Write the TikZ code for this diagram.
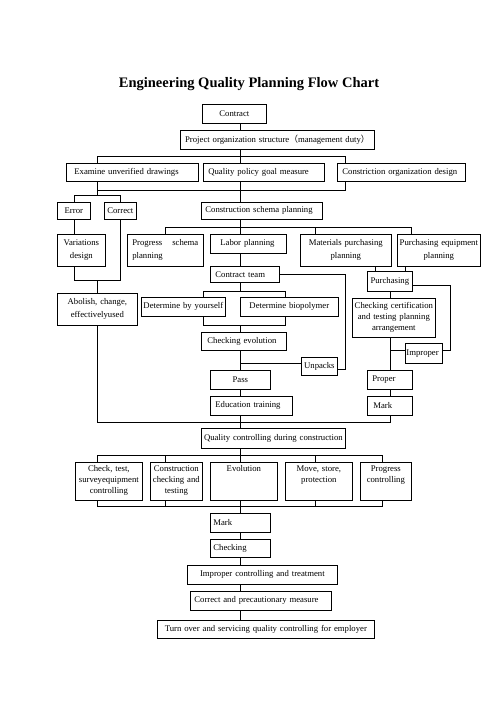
\documentclass[tikz,border=0pt]{standalone}
\usepackage{fontspec}
\setmainfont{Liberation Serif}
\newfontfamily\cjk{Noto Sans CJK SC}
\newcommand\fs{\fontsize{8.7}{11}\selectfont\hyphenpenalty=10000 }
\newcommand\fsb{\fontsize{8.7}{13}\selectfont\hyphenpenalty=10000 }
\newcommand\mkbox[8]{%
  \pgfmathsetmacro\bxw{#4-#2}%
  \pgfmathsetmacro\bxh{#5-#3}%
  \pgfmathsetmacro\bxt{#4-#2-2*#6}%
  \node[box,anchor=north west,minimum width=\bxw pt,minimum height=\bxh pt,
        text width=\bxt pt,inner xsep=#6pt,#7] (#1) at (#2,#3) {#8};%
}
\tikzset{
  box/.style={draw,line width=0.7pt,inner ysep=0pt,align=center,font=\fs},
  lft/.style={align=left},
  two/.style={font=\fsb},
  topal/.style={text height=9pt,text depth=29pt},
  ln/.style={line width=0.7pt}
}
\begin{document}
\begin{tikzpicture}[x=1pt,y=-1pt]
\useasboundingbox[fill=white] (0,0) rectangle (496,702);
\node[font=\fontsize{14.5}{17}\selectfont\bfseries] (title) at (249,84) {Engineering Quality Planning Flow Chart};
% boxes
\mkbox{contract}{202}{104}{266}{123}{0}{}{Contract}
\mkbox{project}{180}{130}{374}{149}{0}{}{Project organization structure{\cjk （}management duty{\cjk ）}}
\mkbox{examine}{66}{163}{198}{181}{8}{lft}{Examine unverified drawings}
\mkbox{quality}{203}{163}{324}{181}{5}{lft}{Quality policy goal measure}
\mkbox{constriction}{337}{163}{465}{181}{5}{lft}{Constriction organization design}
\mkbox{error}{57}{202}{90}{219}{0}{}{Error}
\mkbox{correct}{104}{202}{136}{219}{0}{}{Correct}
\mkbox{schema}{201}{202}{322}{219}{4}{lft}{Construction schema planning}
\mkbox{variations}{57}{234}{105}{266}{0}{two}{Variations\\design}
\mkbox{progress}{127}{234}{203}{266}{5}{lft,two}{Progress\hfill schema\\planning}
\mkbox{labor}{210}{234}{286}{253}{10}{lft}{Labor planning}
\mkbox{materials}{300}{234}{391}{266}{0}{two}{Materials purchasing\\planning}
\mkbox{pequip}{397}{234}{480}{266}{0}{two}{Purchasing equipment\\planning}
\mkbox{cteam}{210}{266}{279}{282}{5}{lft}{Contract team}
\mkbox{purchasing}{367}{271}{412}{291}{0}{}{Purchasing}
\mkbox{abolish}{57}{293}{137}{325}{0}{two}{Abolish, change,\\effectivelyused}
\mkbox{dself}{141}{297}{225}{316}{0}{}{Determine by yourself}
\mkbox{dbio}{240}{297}{338}{316}{0}{}{Determine biopolymer}
\mkbox{checkcert}{352}{298}{435}{337}{0}{}{Checking certification\\and testing planning\\arrangement}
\mkbox{checkevol}{201}{332}{286}{350}{6}{lft}{Checking evolution}
\mkbox{unpacks}{301}{357}{337}{375}{0}{}{Unpacks}
\mkbox{improper}{405}{343}{442}{363}{1}{lft}{Improper}
\mkbox{pass}{210}{370}{270}{389}{0}{}{Pass}
\mkbox{proper}{367}{370}{412}{389}{5}{lft}{Proper}
\mkbox{education}{210}{396}{292}{415}{5}{lft}{Education training}
\mkbox{markone}{367}{396}{412}{415}{6}{lft}{Mark}
\mkbox{qctrl}{201}{428}{345}{448}{0}{}{Quality controlling during construction}
\mkbox{checktest}{75}{462}{142}{500}{0}{topal}{Check, test,\\surveyequipment\\controlling}
\mkbox{ccheck}{150}{462}{202}{500}{0}{topal}{Construction\\checking and\\testing}
\mkbox{evol}{210}{462}{277}{500}{0}{topal}{Evolution}
\mkbox{move}{285}{462}{352}{500}{0}{topal}{Move, store,\\protection}
\mkbox{progctrl}{360}{462}{411}{500}{0}{topal}{Progress\\controlling}
\mkbox{marktwo}{210}{513}{270}{532}{3}{lft}{Mark}
\mkbox{checking}{210}{539}{270}{557}{3}{lft}{Checking}
\mkbox{improperctrl}{187}{565}{337}{584}{0}{}{Improper controlling and treatment}
\mkbox{correctm}{190}{591}{331}{610}{4}{lft}{Correct and precautionary measure}
\mkbox{turnover}{157}{620}{374}{638}{0}{}{Turn over and servicing quality controlling for employer}
% reference coordinates
\coordinate (xa) at (97.7,0);
\coordinate (sp) at (240.5,0);
\coordinate (xc) at (345,0);
\coordinate (xm) at (390.7,0);
\coordinate (x165) at (165.5,0);
\coordinate (x203) at (203,0);
\coordinate (x285) at (285,0);
\coordinate (x315) at (315.5,0);
\coordinate (x376) at (375.7,0);
\coordinate (x406) at (405.7,0);
\coordinate (x412) at (411.7,0);
\coordinate (x450) at (450,0);
\coordinate (x382) at (382.3,0);
\coordinate (y156) at (0,156);
\coordinate (y190) at (0,190);
\coordinate (y195) at (0,195);
\coordinate (y227) at (0,227);
\coordinate (y280) at (0,280);
\coordinate (y285) at (0,285);
\coordinate (y291) at (0,291);
\coordinate (y325) at (0,325);
\coordinate (y350) at (0,350);
\coordinate (y363) at (0,363);
\coordinate (y369) at (0,369);
\coordinate (y422) at (0,422);
\coordinate (y455) at (0,455);
\coordinate (y506) at (0,506);
% connectors
\draw[ln] (contract.south -| sp) -- (project.north -| sp);
\draw[ln] (project.south -| sp) -- (quality.north -| sp);
\draw[ln] (examine.north -| xa) -- (xa |- y156) -- (xc |- y156) -- (constriction.north -| xc);
\draw[ln] (examine.south -| xa) -- (xa |- y195);
\draw[ln] (xa |- y190) -- (xc |- y190) -- (constriction.south -| xc);
\draw[ln] (quality.south -| sp) -- (schema.north -| sp);
\draw[ln] (error.north) |- (correct.north |- y195) -- (correct.north);
\draw[ln] (error.south) -- (error.south |- variations.north);
\draw[ln] (variations.south -| error.south) -- (error.south |- y280) -- (correct.south |- y280) -- (correct.south);
\draw[ln] (xa |- y280) -- (abolish.north -| xa);
\draw[ln] (abolish.south -| xa) -- (xa |- y422) -- (xm |- y422) -- (markone.south -| xm);
\draw[ln] (schema.south -| sp) -- (labor.north -| sp);
\draw[ln] (progress.north -| x165) -- (x165 |- y227) -- (x412 |- y227) -- (pequip.north -| x412);
\draw[ln] (x315 |- y227) -- (materials.north -| x315);
\draw[ln] (labor.south -| sp) -- (cteam.north -| sp);
\draw[ln] (cteam.east) -| (xc |- y369) -- (unpacks.east |- y369);
\draw[ln] (cteam.south -| sp) -- (sp |- y291);
\draw[ln] (dself.north -| x203) -- (x203 |- y291) -- (x285 |- y291) -- (dbio.north -| x285);
\draw[ln] (dself.south -| x203) -- (x203 |- y325) -- (x285 |- y325) -- (dbio.south -| x285);
\draw[ln] (sp |- y325) -- (checkevol.north -| sp);
\draw[ln] (checkevol.south -| sp) -- (pass.north -| sp);
\draw[ln] (sp |- y363) -- (unpacks.west |- y363);
\draw[ln] (pass.south -| sp) -- (education.north -| sp);
\draw[ln] (education.south -| sp) -- (qctrl.north -| sp);
\draw[ln] (materials.south -| x376) -- (purchasing.north -| x376);
\draw[ln] (pequip.south -| x406) -- (purchasing.north -| x406);
\draw[ln] (purchasing.south -| xm) -- (checkcert.north -| xm);
\draw[ln] (purchasing.east |- y285) -- (x450 |- y285) -- (x450 |- y350) -- (improper.east |- y350);
\draw[ln] (checkcert.south -| xm) -- (proper.north -| xm);
\draw[ln] (xm |- y350) -- (improper.west |- y350);
\draw[ln] (proper.south -| xm) -- (markone.north -| xm);
\draw[ln] (qctrl.south -| sp) -- (evol.north -| sp);
\draw[ln] (checktest.north -| xa) -- (xa |- y455) -- (x382 |- y455) -- (progctrl.north -| x382);
\draw[ln] (x165 |- y455) -- (ccheck.north -| x165);
\draw[ln] (x315 |- y455) -- (move.north -| x315);
\draw[ln] (checktest.south -| xa) -- (xa |- y506) -- (x382 |- y506) -- (progctrl.south -| x382);
\draw[ln] (ccheck.south -| x165) -- (x165 |- y506);
\draw[ln] (move.south -| x315) -- (x315 |- y506);
\draw[ln] (evol.south -| sp) -- (marktwo.north -| sp);
\draw[ln] (marktwo.south -| sp) -- (checking.north -| sp);
\draw[ln] (checking.south -| sp) -- (improperctrl.north -| sp);
\draw[ln] (improperctrl.south -| sp) -- (correctm.north -| sp);
\draw[ln] (correctm.south -| sp) -- (turnover.north -| sp);
\end{tikzpicture}
\end{document}
